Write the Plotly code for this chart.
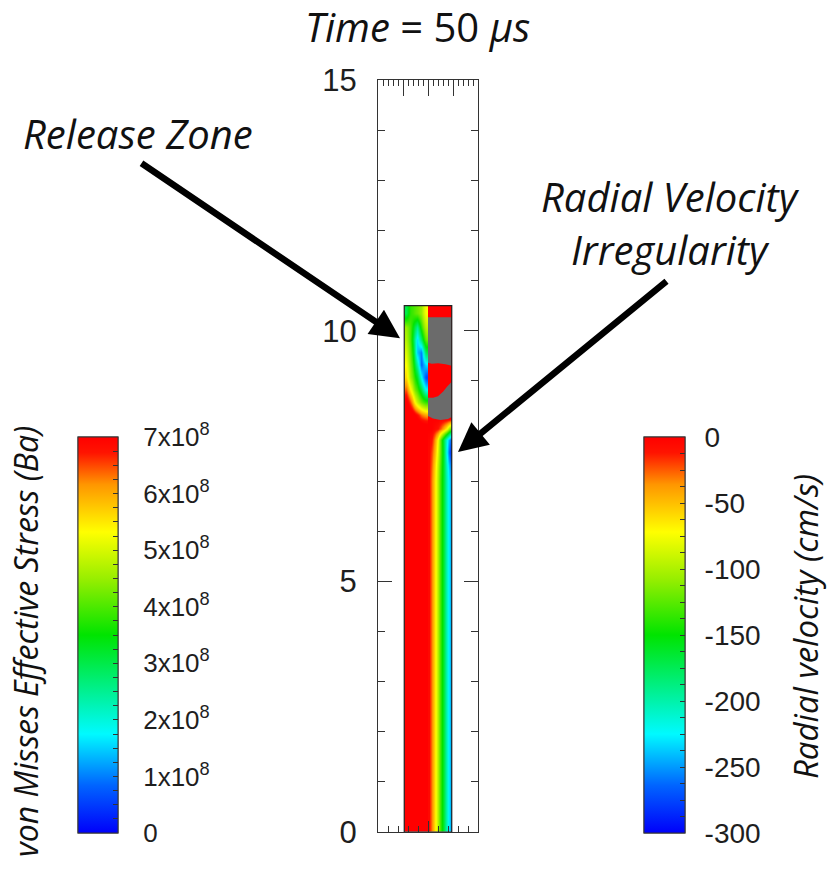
import plotly.graph_objects as go

# ---- rod geometry (cm) ----
ROD_RADIUS = 0.95
ROD_TOP = 10.5

# ---- von Mises effective stress on the left half (units of 1e8 Ba) ----
STRESS_R_EDGES = [-0.95, -0.8, -0.65, -0.5, -0.35, -0.2, 0.0]
STRESS_Z_EDGES = [0.0, 7.8, 8.2, 8.45, 8.7, 8.95, 9.2, 9.45, 9.7, 9.95, 10.2, 10.5]
STRESS_1E8 = [
    [7.5, 7.5, 7.5, 7.5, 7.5, 7.5],
    [7.5, 7.5, 7.5, 7.5, 7.5, 7.5],
    [7.5, 7.5, 7.2, 6.8, 6.3, 6.0],
    [7.2, 6.5, 5.6, 4.8, 4.2, 3.8],
    [6.4, 5.4, 4.5, 3.9, 3.0, 1.8],
    [5.6, 4.6, 3.9, 3.2, 1.8, 0.6],
    [5.3, 4.4, 3.5, 2.3, 0.8, 1.6],
    [5.0, 4.2, 3.1, 1.4, 1.0, 3.0],
    [4.7, 4.0, 2.8, 1.6, 2.8, 4.2],
    [4.5, 4.0, 3.2, 2.5, 3.8, 4.8],
    [3.0, 3.8, 4.0, 4.2, 4.5, 5.3],
]

# ---- radial velocity on the right half (cm/s) ----
VEL_R_EDGES = [0.0, 0.08, 0.2, 0.32, 0.44, 0.56, 0.68, 0.8, 0.9, 0.95]
VEL_Z_EDGES = [0.0, 6.8, 7.2, 7.45, 7.7, 7.95, 8.15, 8.35, 10.5]
VELOCITY = [
    [-5, -30, -60, -95, -135, -165, -205, -235, -265],
    [-5, -30, -60, -95, -135, -165, -205, -235, -265],
    [-5, -25, -55, -90, -130, -165, -210, -248, -275],
    [-5, -20, -45, -80, -125, -165, -222, -272, -292],
    [-3, -10, -35, -70, -125, -170, -215, -252, -272],
    [0, 0, -5, -10, -25, -45, -70, -110, -130],
    [0, 0, 0, 0, 0, 0, 0, 0, 0],
    [0, 0, 0, 0, 0, 0, 0, 0, 0],
]

# ---- cells with no velocity value (void regions) ----
VOID_UPPER_R = [0.0, 0.95, 0.95, 0.7, 0.4, 0.15, 0.0]
VOID_UPPER_Z = [10.27, 10.27, 9.30, 9.33, 9.35, 9.34, 9.36]
VOID_LOWER_R = [0.95, 0.85, 0.76, 0.6, 0.4, 0.2, 0.0, 0.0, 0.2, 0.5, 0.8, 0.95]
VOID_LOWER_Z = [8.98, 8.93, 8.88, 8.78, 8.69, 8.66, 8.66, 8.30, 8.25, 8.22, 8.24, 8.28]

# ---- colour bar ticks ----
STRESS_TICKS = [0, 1, 2, 3, 4, 5, 6, 7]
STRESS_TICK_TEXT = ["0", "1x10<sup>8</sup>", "2x10<sup>8</sup>", "3x10<sup>8</sup>",
                    "4x10<sup>8</sup>", "5x10<sup>8</sup>", "6x10<sup>8</sup>", "7x10<sup>8</sup>"]
VEL_TICKS = [0, -50, -100, -150, -200, -250, -300]
VEL_TICK_TEXT = ["0", "-50", "-100", "-150", "-200", "-250", "-300"]

W, H = 827, 871
TICK_FONT = dict(family="Liberation Sans, Arial, sans-serif", color="#1e1e1e")
TEXT_FONT = dict(family="Open Sans, sans-serif", color="#111111")

RAINBOW = [
    [0.0, "rgb(0,0,250)"],
    [0.12, "rgb(0,100,255)"],
    [0.25, "rgb(0,250,255)"],
    [0.50, "rgb(0,228,0)"],
    [0.64, "rgb(150,238,0)"],
    [0.76, "rgb(255,255,0)"],
    [0.88, "rgb(255,150,0)"],
    [0.96, "rgb(255,20,0)"],
    [1.0, "rgb(255,0,0)"],
]

def px_x(p):
    return p / W

def px_y(p):
    return 1 - p / H

left_bar = dict(x=px_x(78), xanchor="left", y=px_y(833), yanchor="bottom",
                len=396 / H, lenmode="fraction", thickness=40, thicknessmode="pixels",
                xpad=0, ypad=0, outlinewidth=1, outlinecolor="#333")
right_bar = dict(x=px_x(644), xanchor="left", y=px_y(833), yanchor="bottom",
                 len=396 / H, lenmode="fraction", thickness=41, thicknessmode="pixels",
                 xpad=0, ypad=0, outlinewidth=1, outlinecolor="#333")

fig = go.Figure()

# stress field (left half of the rod)
fig.add_trace(go.Heatmap(
    x=STRESS_R_EDGES, y=STRESS_Z_EDGES, z=STRESS_1E8,
    zmin=0, zmax=7, zsmooth="best", colorscale=RAINBOW,
    colorbar=dict(**left_bar, tickmode="array", tickvals=STRESS_TICKS,
                  ticktext=STRESS_TICK_TEXT, ticks="outside", ticklen=20,
                  tickcolor="rgba(0,0,0,0)", tickfont=dict(size=26, **TICK_FONT)),
    hoverinfo="skip"))

# radial velocity field (right half of the rod)
fig.add_trace(go.Heatmap(
    x=VEL_R_EDGES, y=VEL_Z_EDGES, z=VELOCITY,
    zmin=-300, zmax=0, zsmooth="best", colorscale=RAINBOW,
    colorbar=dict(**right_bar, tickmode="array", tickvals=VEL_TICKS,
                  ticktext=VEL_TICK_TEXT, ticks="outside", ticklen=14,
                  tickcolor="rgba(0,0,0,0)", tickfont=dict(size=28, **TICK_FONT)),
    hoverinfo="skip"))

# colour bars carrying the fine inner tick marks (traces sit outside the view)
fig.add_trace(go.Heatmap(
    x=[10, 11], y=[20, 21], z=[[0, 7]], zmin=0, zmax=7, colorscale=RAINBOW,
    colorbar=dict(**left_bar, tickmode="linear", tick0=0, dtick=0.25, ticks="inside",
                  ticklen=5, tickcolor="#333", showticklabels=False),
    hoverinfo="skip"))
fig.add_trace(go.Heatmap(
    x=[10, 11], y=[20, 21], z=[[-300, 0]], zmin=-300, zmax=0, colorscale=RAINBOW,
    colorbar=dict(**right_bar, tickmode="linear", tick0=0, dtick=12.5, ticks="inside",
                  ticklen=5, tickcolor="#333", showticklabels=False),
    hoverinfo="skip"))

# void cells drawn in grey
for vr, vz in ((VOID_UPPER_R, VOID_UPPER_Z), (VOID_LOWER_R, VOID_LOWER_Z)):
    fig.add_trace(go.Scatter(x=vr, y=vz, mode="lines", fill="toself",
                             fillcolor="#6b6b6b", line=dict(width=0, color="#6b6b6b"),
                             hoverinfo="skip", showlegend=False))

# keeps the top/right frame axes alive
fig.add_trace(go.Scatter(x=[None], y=[None], xaxis="x2", yaxis="y2",
                         showlegend=False, hoverinfo="skip"))

# rod outline
fig.add_shape(type="rect", x0=-ROD_RADIUS, x1=ROD_RADIUS, y0=0, y1=ROD_TOP,
              line=dict(color="#222", width=1.2), xref="x", yref="y")

frame = dict(showline=True, linecolor="#333", linewidth=1.3, showgrid=False,
             zeroline=False, ticks="inside", tickcolor="#333", automargin=False)

fig.update_layout(
    width=W, height=H, margin=dict(l=0, r=0, t=0, b=0, pad=0, autoexpand=False),
    paper_bgcolor="white", plot_bgcolor="white", showlegend=False,
    xaxis=dict(**frame, domain=[px_x(378), px_x(478)], range=[-2, 2],
               tickmode="linear", tick0=0, dtick=2, ticklen=11, showticklabels=False,
               minor=dict(ticks="inside", tick0=0, dtick=0.4, ticklen=6, tickcolor="#333"),
               anchor="y"),
    xaxis2=dict(**frame, overlaying="x", side="top", range=[-2, 2], anchor="y",
                tickmode="linear", tick0=0, dtick=1, ticklen=16, showticklabels=False,
                minor=dict(ticks="inside", tick0=0, dtick=0.2, ticklen=6, tickcolor="#333")),
    yaxis=dict(**frame, domain=[px_y(832), px_y(80)], range=[0, 15],
               tickmode="linear", tick0=0, dtick=5, ticklen=14,
               minor=dict(ticks="inside", tick0=0, dtick=1, ticklen=7, tickcolor="#333"),
               tickfont=dict(size=31, **TICK_FONT), ticklabelstandoff=14, anchor="x"),
    yaxis2=dict(**frame, overlaying="y", side="right", range=[0, 15], anchor="x",
                tickmode="linear", tick0=0, dtick=5, ticklen=14, showticklabels=False,
                minor=dict(ticks="inside", tick0=0, dtick=1, ticklen=7, tickcolor="#333")),
)

def label(text, cx, cy, size, angle=0):
    fig.add_annotation(text=text, x=px_x(cx), y=px_y(cy), xref="paper", yref="paper",
                       xanchor="center", yanchor="middle", showarrow=False,
                       textangle=angle, font=dict(size=size, **TEXT_FONT))

# title and labels
label("<i>Time</i> = 50 <i>μs</i>", 417, 27, 40)
label("<i>von Misses Effective Stress (Ba)</i>", 25, 642, 32, -90)
label("<i>Radial velocity (cm/s)</i>", 805, 627, 33, -90)
label("<i>Release Zone</i>", 138, 133, 40)
label("<i>Radial Velocity</i>", 670, 197, 40)
label("<i>Irregularity</i>", 670, 250, 40)

# pointer arrows
fig.add_annotation(x=-1.12, y=9.85, xref="x", yref="y", ax=-260, ay=-176,
                   text="", showarrow=True, arrowhead=2, arrowsize=0.9,
                   arrowwidth=6.5, arrowcolor="#000")
fig.add_annotation(x=1.2, y=7.58, xref="x", yref="y", ax=210, ay=-172,
                   text="", showarrow=True, arrowhead=2, arrowsize=0.9,
                   arrowwidth=6.5, arrowcolor="#000")

fig.write_html("out.html")
